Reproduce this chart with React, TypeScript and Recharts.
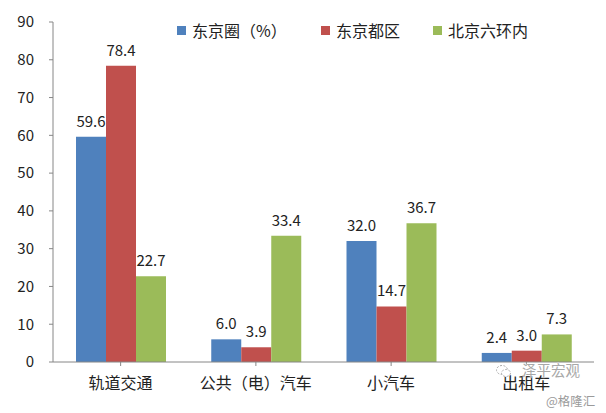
import React from "react";
import { BarChart, Bar, XAxis, YAxis, LabelList } from "recharts";

const categories = ["轨道交通", "公共（电）汽车", "小汽车", "出租车"];
const tokyoArea = [59.6, 6.0, 32.0, 2.4];
const tokyoWards = [78.4, 3.9, 14.7, 3.0];
const beijing = [22.7, 33.4, 36.7, 7.3];
const yTicks = [0, 10, 20, 30, 40, 50, 60, 70, 80, 90];

const series = [
  { key: "tokyoArea", name: "东京圈（%）", color: "#4F81BD" },
  { key: "tokyoWards", name: "东京都区", color: "#C0504D" },
  { key: "beijing", name: "北京六环内", color: "#9BBB59" },
];

const data = categories.map((c, i) => ({
  name: c,
  tokyoArea: tokyoArea[i],
  tokyoWards: tokyoWards[i],
  beijing: beijing[i],
}));

const font = "'Noto Sans CJK SC', 'Liberation Sans', sans-serif";
const legendLeft = [177, 321, 433];

function LegendBox() {
  return (
    <>
      {series.map((s, i) => (
        <div
          key={s.key}
          style={{
            position: "absolute",
            left: legendLeft[i],
            top: 19,
            height: 22,
            display: "flex",
            alignItems: "center",
            fontFamily: font,
            fontSize: 16,
            color: "#222",
            whiteSpace: "nowrap",
          }}
        >
          <span style={{ width: 9, height: 9, background: s.color, display: "inline-block", marginRight: 6 }} />
          <span>{s.name}</span>
        </div>
      ))}
    </>
  );
}

export default function App() {
  return (
    <div style={{ position: "absolute", left: 0, top: 0, width: 606, height: 413, background: "#fff" }}>
      <BarChart
        width={606}
        height={413}
        data={data}
        margin={{ top: 22, right: 12, bottom: 21, left: 0 }}
        barGap={0}
        barCategoryGap={23}
      >
        <XAxis
          dataKey="name"
          height={30}
          stroke="#868686"
          tickSize={4}
          interval={0}
          tick={{ fill: "#222", fontSize: 16, fontFamily: font, dy: 10 }}
        />
        <YAxis
          width={53}
          domain={[0, 90]}
          ticks={yTicks}
          stroke="#868686"
          tickSize={4}
          tick={{ fill: "#222", fontSize: 15, fontFamily: font, dx: -13 }}
        />
        {series.map((s) => (
          <Bar key={s.key} dataKey={s.key} name={s.name} fill={s.color} isAnimationActive={false}>
            <LabelList
              dataKey={s.key}
              position="top"
              offset={10}
              formatter={(v: number) => v.toFixed(1)}
              style={{ fill: "#222", fontSize: 15, fontFamily: font }}
            />
          </Bar>
        ))}
      </BarChart>
      <LegendBox />
      {/* watermark */}
      <svg style={{ position: "absolute", left: 496, top: 364 }} width={16} height={14}>
        <ellipse cx={6} cy={6} rx={5.5} ry={4.5} fill="none" stroke="#aaa" strokeWidth={1} strokeDasharray="2 1.5" />
        <ellipse cx={10} cy={9} rx={4.5} ry={3.5} fill="#fff" stroke="#aaa" strokeWidth={1} strokeDasharray="2 1.5" />
      </svg>
      <div
        style={{
          position: "absolute",
          left: 522,
          top: 359,
          fontFamily: font,
          fontSize: 14.5,
          color: "#a8a8a8",
          textShadow: "0 0 2px #fff, 0 0 1px #fff",
          whiteSpace: "nowrap",
        }}
      >
        泽平宏观
      </div>
      <div
        style={{
          position: "absolute",
          left: 546,
          top: 391,
          fontFamily: font,
          fontSize: 12.5,
          color: "#9a9a9a",
          whiteSpace: "nowrap",
        }}
      >
        @格隆汇
      </div>
    </div>
  );
}
